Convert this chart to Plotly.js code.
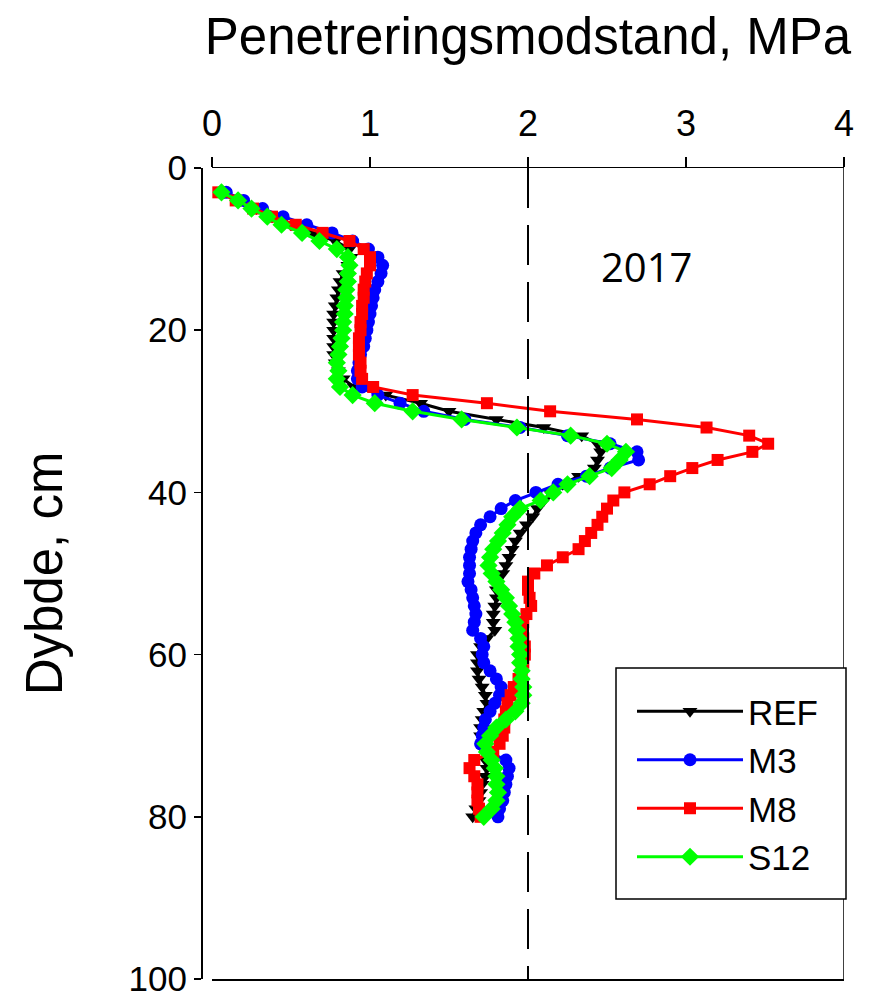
<!DOCTYPE html>
<html>
<head>
<meta charset="utf-8">
<script src="https://cdn.plot.ly/plotly-3.0.1.min.js"></script>
<style>html,body{margin:0;padding:0;background:#fff;}#chart{width:872px;height:1000px;}</style>
</head>
<body>
<div id="chart"></div>
<script>
// Depth (cm)
const depth = [3,4,5,6,7,8,9,10,11,12,13,14,15,16,17,18,19,20,21,22,23,24,25,26,27,28,29,30,
  31,32,33,34,35,36,37,38,39,40,41,42,43,44,45,46,47,48,49,50,51,52,53,54,55,56,57,58,59,60,
  61,62,63,64,65,66,67,68,69,70,71,72,73,74,75,76,77,78,79,80];

// Penetration resistance (MPa)
const REF = [0.08,0.18,0.28,0.38,0.50,0.64,0.78,0.87,
  0.88,0.86,0.83,0.81,0.80,0.79,0.78,0.77,0.77,0.77,
  0.77,0.77,0.77,0.78,0.80,0.83,0.90,1.10,1.32,1.50,
  1.80,2.10,2.34,2.44,2.46,2.44,2.42,2.32,2.22,2.14,
  2.10,2.06,2.03,1.99,1.95,1.92,1.90,1.88,1.86,1.84,
  1.80,1.80,1.80,1.79,1.78,1.78,1.79,1.74,1.70,1.68,
  1.68,1.68,1.69,1.71,1.73,1.74,1.72,1.71,1.70,1.70,
  1.72,1.73,1.73,1.74,1.73,1.71,1.70,1.69,1.67,1.65];

const M3 = [0.09,0.20,0.32,0.45,0.60,0.76,0.89,0.99,
  1.05,1.08,1.07,1.05,1.03,1.02,1.01,1.00,0.99,0.98,
  0.97,0.96,0.94,0.93,0.92,0.92,0.95,1.05,1.19,1.34,
  1.60,1.95,2.25,2.52,2.69,2.70,2.52,2.37,2.19,2.05,
  1.92,1.83,1.76,1.70,1.67,1.65,1.64,1.63,1.63,1.63,
  1.62,1.64,1.65,1.66,1.67,1.66,1.65,1.70,1.72,1.71,
  1.72,1.76,1.80,1.83,1.82,1.79,1.76,1.73,1.72,1.71,
  1.70,1.75,1.86,1.88,1.87,1.86,1.85,1.84,1.82,1.81];

const M8 = [0.04,0.15,0.26,0.38,0.53,0.70,0.87,0.96,
  1.00,1.00,0.98,0.97,0.96,0.96,0.95,0.95,0.94,0.94,
  0.93,0.93,0.93,0.94,0.94,0.95,1.02,1.27,1.74,2.14,
  2.69,3.13,3.40,3.52,3.42,3.20,3.04,2.90,2.77,2.61,
  2.54,2.50,2.47,2.44,2.40,2.36,2.32,2.22,2.12,2.04,
  2.00,2.00,2.01,2.02,1.99,1.97,1.96,1.97,1.98,1.98,
  1.97,1.96,1.94,1.91,1.89,1.87,1.86,1.85,1.85,1.84,
  1.82,1.78,1.66,1.63,1.66,1.68,1.68,1.68,1.69,1.70];

const S12 = [0.06,0.165,0.25,0.35,0.44,0.57,0.68,0.79,
  0.86,0.87,0.86,0.86,0.85,0.85,0.84,0.84,0.83,0.83,
  0.82,0.81,0.80,0.79,0.80,0.79,0.81,0.89,1.03,1.27,
  1.58,1.93,2.27,2.50,2.62,2.58,2.53,2.39,2.25,2.16,
  2.08,1.95,1.90,1.87,1.84,1.81,1.78,1.76,1.75,1.77,
  1.80,1.83,1.86,1.88,1.90,1.92,1.93,1.94,1.94,1.95,
  1.95,1.96,1.96,1.97,1.97,1.96,1.92,1.86,1.80,1.76,
  1.73,1.74,1.77,1.79,1.80,1.80,1.81,1.80,1.77,1.72];

const seriesNames = ['REF','M3','M8','S12'];
const seriesData = [REF, M3, M8, S12];
const xTicks = [0,1,2,3,4];
const yTicks = [0,20,40,60,80,100];
const threshold = 2;
const yearLabel = '2017';

const colors = ['#000000','#0000ff','#ff0000','#00ff00'];
const symbols = ['triangle-down','circle','square','diamond'];
const sizes = [13,13,12,14];

const traces = seriesData.map((vals, i) => ({
  type: 'scatter',
  mode: 'lines+markers',
  name: seriesNames[i],
  x: vals,
  y: depth,
  line: {color: colors[i], width: 3},
  marker: {color: colors[i], symbol: symbols[i], size: sizes[i], line: {width: 0}}
}));

const font = 'Liberation Sans, Arial, sans-serif';

// plot-area helpers (pixels -> paper fractions)
const L = 201, R = 844, T = 168, B = 979;
const px = v => (v - L) / (R - L);
const py = v => (B - v) / (B - T);

const layout = {
  width: 872,
  height: 1000,
  paper_bgcolor: '#fff',
  plot_bgcolor: '#fff',
  margin: {l: L, r: 872 - R, t: T, b: 1000 - B},
  showlegend: true,
  font: {family: font, color: '#000'},
  title: {
    text: 'Penetreringsmodstand, MPa',
    font: {family: font, size: 51, color: '#000'},
    xref: 'container', x: 528/872, xanchor: 'center',
    yref: 'container', y: 1 - 36/1000, yanchor: 'middle'
  },
  xaxis: {
    domain: [11/643, 1],
    side: 'top',
    range: [0, 4],
    tickvals: xTicks,
    ticktext: xTicks.map(String),
    ticks: 'outside',
    ticklen: 10,
    tickwidth: 1.5,
    tickcolor: '#000',
    showline: true,
    linecolor: '#000',
    linewidth: 1.5,
    mirror: true,
    showgrid: false,
    zeroline: false,
    tickfont: {family: font, size: 36, color: '#000'},
    ticklabelstandoff: 6
  },
  yaxis: {
    anchor: 'free',
    position: 0,
    range: [100, 0],
    tickvals: yTicks,
    ticktext: yTicks.map(String),
    ticks: 'outside',
    ticklen: 7,
    tickwidth: 1.5,
    tickcolor: '#000',
    showline: true,
    linecolor: '#000',
    linewidth: 1.5,
    showgrid: false,
    zeroline: false,
    tickfont: {family: font, size: 35, color: '#000'},
    title: {text: 'Dybde, cm', font: {family: font, size: 51, color: '#000'}, standoff: 48}
  },
  shapes: [
    {type: 'line', xref: 'x', yref: 'paper', x0: 4, x1: 4, y0: 0, y1: 1,
     line: {color: '#000', width: 1.5}},
    {type: 'line', xref: 'x', yref: 'y', x0: threshold, x1: threshold, y0: 0, y1: 100,
     line: {color: '#000', width: 2, dash: '40px,17px'}},
    {type: 'rect', xref: 'paper', yref: 'paper', x0: px(616), x1: px(846), y0: py(899), y1: py(668),
     line: {color: '#000', width: 1.5}, fillcolor: '#fff', layer: 'above'}
  ],
  annotations: [
    {text: yearLabel, xref: 'x', yref: 'y', x: 2.75, y: 12.1, showarrow: false,
     font: {family: 'Open Sans, sans-serif', size: 40, color: '#000'}}
  ],
  legend: {
    x: px(632), y: py(682), xanchor: 'left', yanchor: 'top',
    bgcolor: 'rgba(0,0,0,0)', borderwidth: 0,
    font: {family: font, size: 35, color: '#000'},
    itemwidth: 106,
    tracegroupgap: 0
  }
};

Plotly.newPlot('chart', traces, layout, {displayModeBar: false, staticPlot: true});
</script>
</body>
</html>
